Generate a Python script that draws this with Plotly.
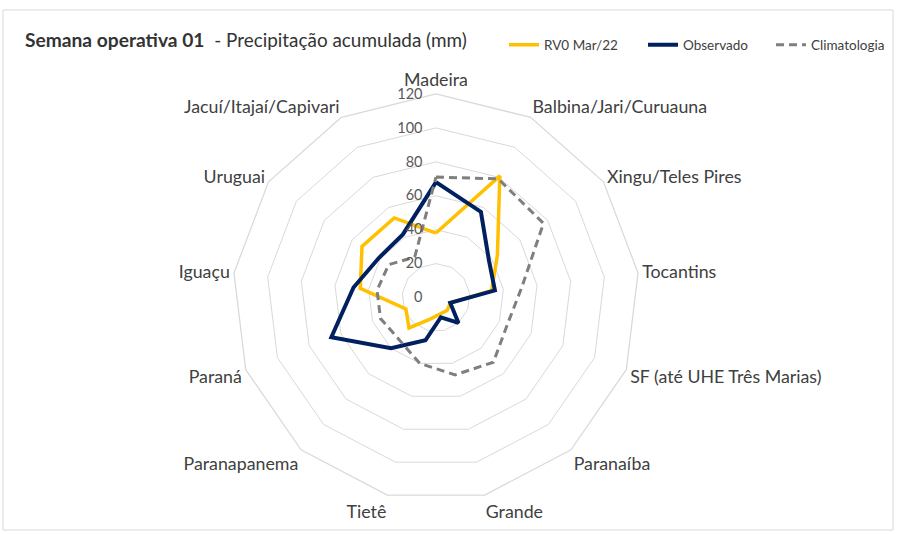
import plotly.graph_objects as go

categories = ["Madeira", "Balbina/Jari/Curuauna", "Xingu/Teles Pires", "Tocantins",
              "SF (até UHE Três Marias)", "Paranaíba", "Grande", "Tietê", "Paranapanema",
              "Paraná", "Iguaçu", "Uruguai", "Jacuí/Itajaí/Capivari"]
rv0 = [38, 81, 44, 33, 9, 10, 10, 13, 24, 19, 45, 53, 53]
observado = [68, 57, 38, 35, 9, 20, 12, 26, 40, 66, 49, 41, 42]
climatologia = [71, 79, 77, 51, 45, 51, 47, 40, 33, 35, 35, 34, 27]
radial_ticks = [0, 20, 40, 60, 80, 100, 120]

W, H = 897, 534
FONT = "Lato"

def closed(vals):
    return list(vals) + [vals[0]]

theta = closed(categories)

fig = go.Figure()
fig.add_trace(go.Scatterpolar(r=closed(rv0), theta=theta, mode="lines", name="RV0 Mar/22",
                              line=dict(color="#FFC000", width=3.5), legendwidth=94))
fig.add_trace(go.Scatterpolar(r=closed(observado), theta=theta, mode="lines", name="Observado",
                              line=dict(color="#002060", width=4), legendwidth=83))
fig.add_trace(go.Scatterpolar(r=closed(climatologia), theta=theta, mode="lines", name="Climatologia",
                              line=dict(color="#7F7F7F", width=3, dash="8px,5px"), legendwidth=76))

cx, cy, R = 436, 297.5, 203.5
fig.update_layout(
    width=W, height=H,
    margin=dict(l=0, r=0, t=0, b=0),
    paper_bgcolor="white", plot_bgcolor="white",
    font=dict(family=FONT, color="#404040"),
    title=dict(text="<span style='font-size:19.2px'><b>Semana operativa 01</b></span>\u00a0\u00a0- Precipitação acumulada (mm)",
               x=25 / W, xanchor="left", y=1 - 40 / H, yanchor="middle",
               font=dict(family=FONT, size=18.9, color="#333333")),
    showlegend=True,
    legend=dict(orientation="h", x=504 / W, xanchor="left", y=1 - 45 / H, yanchor="middle",
                font=dict(family=FONT, size=13.5, color="#404040"), bgcolor="rgba(0,0,0,0)",
                traceorder="normal"),
    polar=dict(
        domain=dict(x=[(cx - R) / W, (cx + R) / W], y=[(H - cy - R) / H, (H - cy + R) / H]),
        bgcolor="white",
        gridshape="linear",
        radialaxis=dict(range=[0, 120], tickvals=radial_ticks,
                        ticktext=[str(v) + "\u2003" for v in radial_ticks],
                        showline=False, ticks="", angle=90, tickangle=90,
                        side="counterclockwise",
                        gridcolor="#D9D9D9", gridwidth=1.25,
                        tickfont=dict(family=FONT, size=14.5, color="#595959")),
        angularaxis=dict(type="category", categoryarray=categories, rotation=90, direction="clockwise",
                         showgrid=False, showline=True, linecolor="#D9D9D9", linewidth=1.25,
                         ticks="outside", ticklen=0, tickcolor="rgba(0,0,0,0)",
                         tickfont=dict(family=FONT, size=17.8, color="#404040")),
    ),
    shapes=[dict(type="rect", xref="paper", yref="paper",
                 x0=3 / W, x1=893 / W, y0=1 - 530 / H, y1=1 - 10 / H,
                 line=dict(color="#D9D9D9", width=1), fillcolor="rgba(0,0,0,0)")],
)

fig.write_html("out.html", config={"displayModeBar": False},
               post_script="document.body.style.margin='0px';")
